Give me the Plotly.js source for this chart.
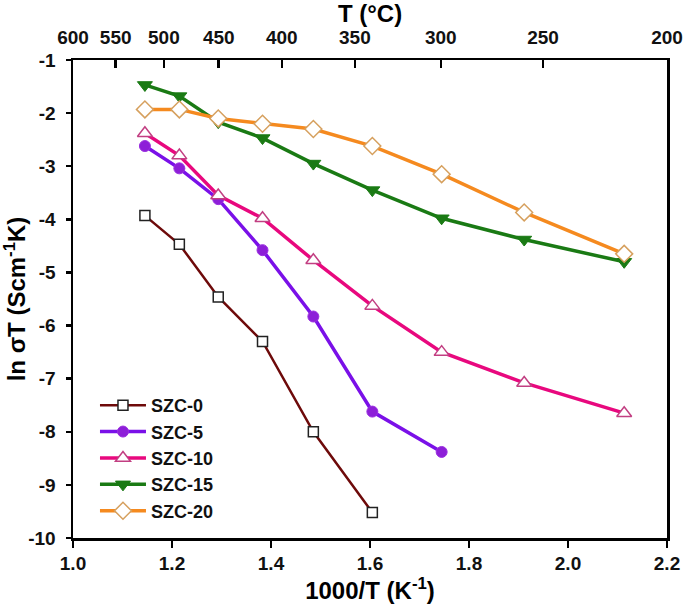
<!DOCTYPE html>
<html>
<head>
<meta charset="utf-8">
<script src="https://cdn.plot.ly/plotly-3.0.1.min.js"></script>
<style>html,body{margin:0;padding:0;background:#fff}#chart{width:685px;height:604px}</style>
</head>
<body>
<div id="chart"></div>
<script>
// Temperatures (°C) of the measurement points
var tempC = [600, 550, 500, 450, 400, 350, 300, 250, 200];
// Top-axis tick labels (°C)
var topTicks = [600, 550, 500, 450, 400, 350, 300, 250, 200];
// Bottom-axis ticks
var xTicks = [1.0, 1.2, 1.4, 1.6, 1.8, 2.0, 2.2];
var xTickText = ['1.0', '1.2', '1.4', '1.6', '1.8', '2.0', '2.2'];
// Left-axis ticks
var yTicks = [-1, -2, -3, -4, -5, -6, -7, -8, -9, -10];
var yTickText = ['-1', '-2', '-3', '-4', '-5', '-6', '-7', '-8', '-9', '-10'];

// ln(sigma T) values
var szc0  = [-3.93, -4.47, -5.46, -6.30, -8.00, -9.52];
var szc5  = [-2.62, -3.04, -3.62, -4.58, -5.83, -7.62, -8.38];
var szc10 = [-2.38, -2.80, -3.55, -3.98, -4.77, -5.63, -6.50, -7.08, -7.65];
var szc15 = [-1.47, -1.68, -2.17, -2.47, -2.95, -3.45, -3.98, -4.38, -4.80];
var szc20 = [-1.93, -1.93, -2.10, -2.20, -2.30, -2.62, -3.15, -3.87, -4.65];

function inv(t){ return 1000/(t+273.15); }
function b(s){ return '<b>' + s + '</b>'; }
var xAll = tempC.map(inv);
function xs(n){ return xAll.slice(0,n); }

var F = 'Liberation Sans, Arial, sans-serif';

var traces = [
  {name:'SZC-0', x:xs(szc0.length), y:szc0, mode:'lines+markers',
   line:{color:'#6e0a0a', width:2.5},
   marker:{symbol:'square', size:10, color:'#ffffff', line:{color:'#222222', width:1.5}}},
  {name:'SZC-5', x:xs(szc5.length), y:szc5, mode:'lines+markers',
   line:{color:'#7a10e8', width:3.5},
   marker:{symbol:'circle', size:11, color:'#8d1fd8', line:{color:'#9b30e0', width:1}}},
  {name:'SZC-10', x:xs(szc10.length), y:szc10, mode:'lines+markers',
   line:{color:'#e8087e', width:3.5},
   marker:{symbol:'triangle-up', size:13, color:'#ffffff', line:{color:'#c23f82', width:1.5}}},
  {name:'SZC-15', x:xs(szc15.length), y:szc15, mode:'lines+markers',
   line:{color:'#1a7a14', width:3.5},
   marker:{symbol:'triangle-down', size:13, color:'#1a7a14', line:{color:'#1a7a14', width:1}}},
  {name:'SZC-20', x:xs(szc20.length), y:szc20, mode:'lines+markers',
   line:{color:'#f58a1f', width:3.5},
   marker:{symbol:'diamond', size:13, color:'#ffffff', line:{color:'#d6a05e', width:1.5}}},
  {x:[inv(600), inv(200)], y:[null, null], xaxis:'x2', yaxis:'y', mode:'lines',
   showlegend:false, hoverinfo:'skip', line:{color:'rgba(0,0,0,0)'}}
];

var layout = {
  width:685, height:604,
  margin:{l:73, r:18, t:60, b:66},
  paper_bgcolor:'#ffffff', plot_bgcolor:'#ffffff',
  font:{family:F, color:'#000000'},
  showlegend:true,
  legend:{x:0.037, y:0.316, xanchor:'left', yanchor:'top',
          bgcolor:'rgba(0,0,0,0)', borderwidth:0,
          font:{family:F, size:18, color:'#111111', weight:'bold'},
          tracegroupgap:0, itemwidth:46},
  xaxis:{range:[1.0, 2.2], tickmode:'array', tickvals:xTicks, ticktext:xTickText.map(b),
         showgrid:false, zeroline:false,
         showline:true, linecolor:'#000', linewidth:2.5,
         ticks:'outside', ticklen:7, tickwidth:2.5, tickcolor:'#000',
         tickfont:{family:F, size:19, color:'#111'},
         title:{text:'1000/T (K<sup>-1</sup>)', font:{family:F, size:24, weight:'bold'}, standoff:2}},
  xaxis2:{overlaying:'x', side:'top', anchor:'y',
          range:[inv(600), inv(200)],
          tickmode:'array', tickvals:topTicks.map(inv), ticktext:topTicks.map(String).map(b),
          showgrid:false, zeroline:false,
          showline:true, linecolor:'#000', linewidth:2.5,
          ticks:'inside', ticklen:8, tickwidth:2.5, tickcolor:'#000',
          ticklabelstandoff:6,
          tickfont:{family:F, size:19, color:'#111'},
          title:{text:'T (°C)', font:{family:F, size:24, weight:'bold'}, standoff:2}},
  yaxis:{range:[-10, -1], tickmode:'array', tickvals:yTicks, ticktext:yTickText.map(b),
         showgrid:false, zeroline:false,
         showline:true, mirror:true, linecolor:'#000', linewidth:2.5,
         ticks:'outside', ticklen:5, tickwidth:2.5, tickcolor:'#000',
         ticklabelstandoff:6,
         tickfont:{family:F, size:19, color:'#111'},
         title:{text:'ln σT (Scm<sup>-1</sup>K)', font:{family:F, size:24, weight:'bold'}, standoff:4}}
};

Plotly.newPlot('chart', traces, layout, {displayModeBar:false, staticPlot:true});
</script>
</body>
</html>
